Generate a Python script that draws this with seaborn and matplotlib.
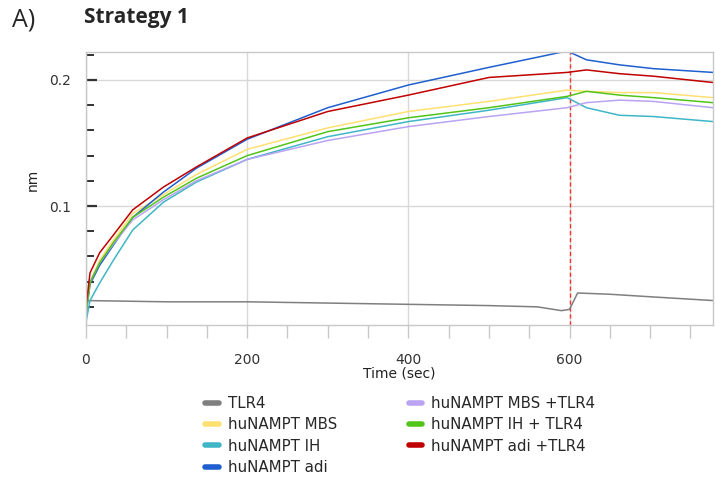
import numpy as np
import pandas as pd
import matplotlib
matplotlib.use("Agg")
import matplotlib.pyplot as plt
from matplotlib.ticker import MultipleLocator
import seaborn as sns

# ---- data ----
t_main = [0, 5, 17, 34, 58, 96, 137, 200, 300, 400, 500, 597, 621, 662, 704, 778]
adi_tlr4 = [0.020, 0.047, 0.063, 0.077, 0.097, 0.115, 0.131, 0.154, 0.175, 0.188, 0.202, 0.206, 0.208, 0.205, 0.203, 0.198]
adi = [0.014, 0.038, 0.053, 0.069, 0.091, 0.111, 0.130, 0.153, 0.178, 0.196, 0.210, 0.223, 0.216, 0.212, 0.209, 0.206]
mbs = [0.016, 0.040, 0.057, 0.073, 0.094, 0.109, 0.125, 0.145, 0.162, 0.175, 0.183, 0.192, 0.191, 0.190, 0.190, 0.186]
ih_tlr4 = [0.015, 0.039, 0.055, 0.071, 0.091, 0.107, 0.122, 0.140, 0.159, 0.170, 0.178, 0.187, 0.191, 0.188, 0.186, 0.182]
mbs_tlr4 = [0.015, 0.040, 0.055, 0.070, 0.089, 0.105, 0.120, 0.137, 0.152, 0.163, 0.171, 0.178, 0.182, 0.184, 0.183, 0.178]
ih = [0.008, 0.025, 0.039, 0.057, 0.081, 0.103, 0.119, 0.137, 0.155, 0.167, 0.176, 0.186, 0.178, 0.172, 0.171, 0.167]

t_tlr4 = [0, 100, 200, 300, 400, 500, 560, 590, 600, 610, 650, 700, 778]
tlr4 = [0.025, 0.024, 0.024, 0.023, 0.022, 0.021, 0.020, 0.017, 0.018, 0.031, 0.030, 0.028, 0.025]

labels = ["TLR4", "huNAMPT MBS", "huNAMPT IH", "huNAMPT adi",
          "huNAMPT MBS +TLR4", "huNAMPT IH + TLR4", "huNAMPT adi +TLR4"]
colors = ["#7f7f7f", "#ffe070", "#3fb6c6", "#1f5fcf", "#b9a3f2", "#52c41a", "#c00000"]
x_ticks = [0, 200, 400, 600]
y_ticks = [0.1, 0.2]

series = {
    "TLR4": (t_tlr4, tlr4),
    "huNAMPT MBS": (t_main, mbs),
    "huNAMPT IH": (t_main, ih),
    "huNAMPT adi": (t_main, adi),
    "huNAMPT MBS +TLR4": (t_main, mbs_tlr4),
    "huNAMPT IH + TLR4": (t_main, ih_tlr4),
    "huNAMPT adi +TLR4": (t_main, adi_tlr4),
}
rows = []
for name in labels:
    tt, vv = series[name]
    for a, b in zip(tt, vv):
        rows.append((name, a, b))
df = pd.DataFrame(rows, columns=["series", "time", "nm"])

sns.set_theme(style="white")
plt.rcParams["font.family"] = ["DejaVu Sans"]

fig = plt.figure(figsize=(7.15, 4.79), dpi=100)
ax = fig.add_axes([86/715, 1-325/479, (713-86)/715, (325-52)/479])

sns.lineplot(data=df, x="time", y="nm", hue="series", hue_order=labels,
             palette=dict(zip(labels, colors)), linewidth=1.1, ax=ax,
             estimator=None, sort=False, legend=True)

ax.axvline(600, color="#ff3030", linestyle=(0, (3, 2)), linewidth=1.0, zorder=1)

ax.set_xlim(0, 778)
ax.set_ylim(0.0056, 0.2222)
ax.xaxis.set_minor_locator(MultipleLocator(50))
ax.yaxis.set_minor_locator(MultipleLocator(0.02))
ax.set_xticks(x_ticks)
ax.set_xticklabels([str(v) for v in x_ticks])
ax.set_yticks(y_ticks)
ax.set_yticklabels([f"{v:g}" for v in y_ticks])

ax.grid(True, which="major", color="#d8d8d8", linewidth=1.0)
ax.set_axisbelow(True)
for s in ax.spines.values():
    s.set_color("#c8c8c8")
    s.set_linewidth(1.0)

ax.tick_params(axis="y", which="major", direction="in", length=8, width=1.6,
               color="#333333", pad=11, labelsize=10, labelcolor="#333333", left=True)
ax.tick_params(axis="y", which="minor", direction="in", length=6, width=1.4,
               color="#333333", left=True)
ax.tick_params(axis="x", which="major", direction="out", length=9, width=1.0,
               color="#c8c8c8", pad=11, labelsize=10, labelcolor="#333333", bottom=True)
ax.tick_params(axis="x", which="minor", direction="out", length=9, width=1.0,
               color="#c8c8c8", bottom=True)

ax.set_xlabel("Time (sec)", fontsize=10, color="#222222")
ax.xaxis.set_label_coords(0.5, -0.152)
ax.set_ylabel("nm", fontsize=10, color="#222222")
ax.yaxis.set_label_coords(-0.074, 0.53)

handles, lbls = ax.get_legend_handles_labels()
for h in handles:
    h.set_linewidth(4)
ax.legend(handles, lbls, loc="upper left", bbox_to_anchor=(205/715, 1-396/479),
          bbox_transform=fig.transFigure, ncol=2, frameon=False, fontsize=10.8,
          handlelength=0.9, handletextpad=0.6, columnspacing=4.8,
          labelspacing=0.42, borderpad=0, borderaxespad=0)

fig.text(12/715, 1-20/479, "A)", fontsize=18, family="Open Sans", va="center", ha="left")
fig.text(84/715, 1-18/479, "Strategy 1", fontsize=15, family="Open Sans",
         fontweight="bold", va="center", ha="left")

fig.savefig("out.png", dpi=100)
